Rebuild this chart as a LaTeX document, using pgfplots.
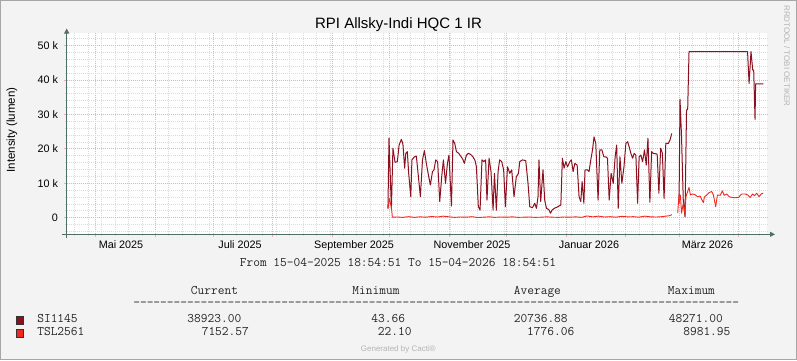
\documentclass[border=0pt]{standalone}
\usepackage{fontspec}
\setmainfont{Liberation Sans}
\usepackage{pgfplots}
\pgfplotsset{compat=1.18}
\usetikzlibrary{arrows.meta}
\definecolor{bgc}{HTML}{F3F3F3}
\definecolor{sicol}{HTML}{8C1020}
\definecolor{tslcol}{HTML}{F0281E}
\definecolor{axcol}{HTML}{4F6E64}
\definecolor{mgrid}{HTML}{EEB0B0}
\definecolor{ngrid}{HTML}{DCDCDC}
\definecolor{faint}{HTML}{B4B4B4}
\newcommand{\tickfont}{\fontsize{10.8}{12}\selectfont}
\newcommand{\monofont}{\ttfamily\fontsize{13.07}{14}\selectfont}
\begin{document}
\begin{tikzpicture}[x=1pt,y=1pt]
\fill[bgc] (0,0) rectangle (797,360);
\draw[black!35, line width=1pt] (0.5,0.5) rectangle (796.5,359.5);
\begin{axis}[
  at={(66.7pt,125.7pt)}, anchor=south west, scale only axis,
  width=700.4pt, height=201pt,
  xmin=0.79, xmax=365.79, ymin=-4.826, ymax=53.6,
  axis background/.style={fill=white},
  axis line style={draw=none},
  xtick={16,47,77,108,139,169,200,230,261,292,320,351},
  xticklabels={},
  minor xtick={5,12,...,365},
  ytick={0,10,...,50}, yticklabels={0,10 k,20 k,30 k,40 k,50 k},
  minor ytick={-4,-2,...,52},
  grid=both,
  major grid style={mgrid, dash pattern=on 1pt off 1pt, line width=0.8pt},
  minor grid style={ngrid, dash pattern=on 1pt off 1pt, line width=0.8pt},
  tick align=outside,
  major tick length=3pt, minor tick length=2pt,
  major tick style={mgrid, line width=0.8pt},
  minor tick style={ngrid, line width=0.8pt},
  xtick pos=bottom, ytick pos=left,
  yticklabel style={font=\tickfont, inner xsep=0pt, xshift=-5.5pt},
  unbounded coords=jump,
  clip=true,
]
% SI1145 (values in thousands)
\addplot[sicol, line width=1pt, line join=round] coordinates {
(168.2,2.7)(168.75,23.1)(170.0,2.5)(170.8,20.2)(171.9,16.1)(173.1,16.3)(174.0,21.1)(175.2,22.8)(176.0,21.4)(176.9,14.4)(177.5,18.7)(178.3,19.2)(179.0,12.9)(180.1,6.1)(180.7,16.8)(182.0,17.7)(183.0,17.9)(183.9,12.9)(185.1,6.1)(186.2,16.8)(187.2,19.5)(188.2,15.8)(189.3,12.4)(190.3,9.5)(191.4,13.4)(192.2,13.9)(193.1,16.8)(194.1,16.3)(195.2,4.7)(196.2,11.9)(197.1,16.8)(198.2,10.0)(199.2,15.8)(200.0,18.2)(201.3,3.4)(202.1,22.6)(203.0,21.6)(203.9,19.2)(205.1,18.7)(206.1,17.9)(207.2,17.0)(208.0,15.8)(209.1,18.2)(210.1,18.7)(211.3,18.4)(212.5,17.7)(213.6,16.6)(214.3,14.8)(215.3,3.2)(216.2,2.2)(217.2,16.8)(218.1,16.3)(219.1,16.8)(219.8,5.1)(220.9,17.3)(221.9,13.4)(223.0,2.2)(223.7,12.9)(224.7,2.2)(225.6,13.4)(226.4,16.8)(227.5,16.3)(228.5,13.9)(229.4,3.2)(230.5,14.8)(231.7,12.9)(232.7,13.9)(233.9,6.1)(235.1,11.9)(236.2,12.9)(236.9,16.3)(238.3,16.8)(240.0,16.6)(241.2,10.0)(242.1,3.2)(243.5,2.9)(244.7,4.2)(245.6,2.7)(246.4,6.1)(246.9,16.8)(247.8,4.7)(249.0,13.9)(249.9,5.1)(250.8,2.7)(252.0,2.4)(252.9,1.3)(253.7,2.2)(254.8,2.7)(256.0,3.0)(257.4,3.4)(258.3,3.7)(259.1,17.3)(260.0,14.4)(260.9,16.3)(261.8,14.8)(263.0,16.3)(263.8,16.8)(264.7,13.4)(265.6,15.8)(266.8,15.3)(267.8,6.1)(268.7,4.7)(269.4,10.5)(270.3,4.2)(270.9,13.9)(272.2,13.9)(273.0,13.4)(273.9,16.8)(274.8,19.7)(275.6,23.5)(276.5,21.6)(277.7,5.1)(278.6,19.7)(279.7,19.7)(280.7,17.7)(281.8,17.7)(282.6,17.3)(283.5,5.1)(284.5,12.9)(285.6,10.0)(286.6,17.7)(287.4,21.1)(288.2,2.7)(289.1,17.7)(290.1,10.0)(291.2,14.8)(292.2,21.6)(293.1,22.1)(293.9,20.6)(294.8,18.7)(295.7,17.3)(296.5,18.7)(297.4,18.2)(298.3,4.2)(299.1,17.7)(300.0,18.2)(300.9,16.3)(301.9,19.7)(302.8,15.3)(303.7,23.1)(304.7,4.5)(305.6,19.2)(306.5,18.7)(308.5,18.5)(309.4,7.1)(310.3,20.2)(311.2,18.7)(312.1,5.6)(313.0,21.6)(314.3,21.6)(315.2,22.6)(316.1,24.5)
(nan,nan)
(319.9,4.2)(320.4,34.4)(321.2,23.5)(322.1,5.1)(323.0,0.3)(323.8,31.3)(324.4,31.5)(325.1,48.27)(355.6,48.27)(356.4,39.0)(357.4,48.27)(358.3,42.9)(358.8,42.9)(359.5,28.6)(359.8,38.9)(363.8,38.9)
};
% TSL2561 (values in thousands)
\addplot[tslcol, line width=0.9pt, line join=round] coordinates {
(168.2,2.5)(168.9,5.6)(170.0,3.0)(170.5,0.15)(173,0.2)(176,0.1)(179,0.3)(182,0.1)(185,0.25)(188,0.15)(191,0.35)(194,0.2)(197,0.45)(200,0.25)(203,0.1)(206,0.2)(209,0.15)(212,0.3)(215,0.05)(218,0.15)(221,0.25)(224,0.1)(227,0.2)(230,0.15)(233,0.25)(236,0.1)(239,0.15)(242,0.2)(245,0.1)(248,0.15)(251,0.25)(254,0.15)(257,0.1)(260,0.2)(263,0.15)(266,0.25)(269,0.1)(272,0.5)(275,0.25)(278,0.45)(281,0.2)(284,0.3)(287,0.15)(290,0.4)(293,0.25)(296,0.3)(299,0.15)(302,0.45)(305,0.25)(308,0.2)(311,0.3)(313,0.45)(315.2,0.6)(316.1,0.9)
(nan,nan)
(319.2,1.3)(319.9,6.9)(320.6,6.5)(321.2,1.3)(322.1,4.2)(323.0,1.0)(323.5,6.1)(325.1,8.8)(325.8,6.6)(326.8,6.9)(328.2,6.7)(329.6,6.1)(330.9,6.3)(331.7,5.3)(332.6,4.4)(333.1,6.0)(334.3,6.6)(335.6,7.3)(336.9,7.6)(337.8,6.6)(339.0,3.2)(339.9,6.6)(341.3,6.5)(342.5,7.8)(343.4,6.5)(344.8,6.9)(346.0,6.1)(347.4,5.9)(349.1,5.8)(350.9,5.9)(352.6,6.9)(354.4,6.9)(355.7,6.6)(357.0,5.9)(358.2,6.9)(359.2,6.4)(360.4,7.1)(361.6,6.1)(362.7,6.9)(363.8,7.15)
};
\end{axis}
% axes with arrows
\draw[axcol, line width=1pt, -{Triangle[length=5pt,width=5pt]}] (61.7,125.7) -- (775,125.7);
\draw[axcol, line width=1pt, -{Triangle[length=5pt,width=5pt]}] (66.7,121.7) -- (66.7,331.5);
% x labels
\begin{scope}[font=\tickfont]
\node[anchor=base] at (121,111.7) {Mai 2025};
\node[anchor=base] at (240,111.7) {Juli 2025};
\node[anchor=base] at (354,111.7) {September 2025};
\node[anchor=base] at (472,111.7) {November 2025};
\node[anchor=base] at (589,111.7) {Januar 2026};
\node[anchor=base] at (707.5,111.7) {März 2026};
\end{scope}
% title and y label
\node[anchor=base, font=\fontsize{15}{17}\selectfont] at (398.5,331.7) {RPI Allsky-Indi HQC 1 IR};
\node[rotate=90, font=\fontsize{11.5}{13}\selectfont] at (12,230) {Intensity (lumen)};
\node[rotate=-90, font=\fontsize{8}{9}\selectfont, text=faint] at (787,304) {RRDTOOL / TOBI OETIKER};
% legend block
\begin{scope}[font=\monofont, text=black!85]
\node[anchor=base] at (398,93.3) {From 15-04-2025 18:54:51 To 15-04-2026 18:54:51};
\node[anchor=base] at (214.5,66) {Current};
\node[anchor=base] at (376,66) {Minimum};
\node[anchor=base] at (537.4,66) {Average};
\node[anchor=base] at (691.4,66) {Maximum};
\node[anchor=base] at (436.2,54) {------------------------------------------------------------------------------------------};
\fill[sicol, draw=black!80, line width=0.5pt] (15.8,35.5) rectangle (23.4,44.2);
\fill[tslcol, draw=black!80, line width=0.5pt] (15.8,22.5) rectangle (23.4,31.2);
\node[anchor=base west, inner xsep=0pt] at (37.1,37.6) {SI1145};
\node[anchor=base east, inner xsep=0pt] at (241.5,37.6) {38923.00};
\node[anchor=base east, inner xsep=0pt] at (405.2,37.6) {43.66};
\node[anchor=base east, inner xsep=0pt] at (567.9,37.6) {20736.88};
\node[anchor=base east, inner xsep=0pt] at (723,37.6) {48271.00};
\node[anchor=base west, inner xsep=0pt] at (37.1,24.3) {TSL2561};
\node[anchor=base east, inner xsep=0pt] at (249.1,24.3) {7152.57};
\node[anchor=base east, inner xsep=0pt] at (411.8,24.3) {22.10};
\node[anchor=base east, inner xsep=0pt] at (574.5,24.3) {1776.06};
\node[anchor=base east, inner xsep=0pt] at (730.6,24.3) {8981.95};
\end{scope}
\node[font=\fontsize{8}{9}\selectfont, text=faint] at (398.3,10.7) {Generated by Cacti®};
\end{tikzpicture}
\end{document}
